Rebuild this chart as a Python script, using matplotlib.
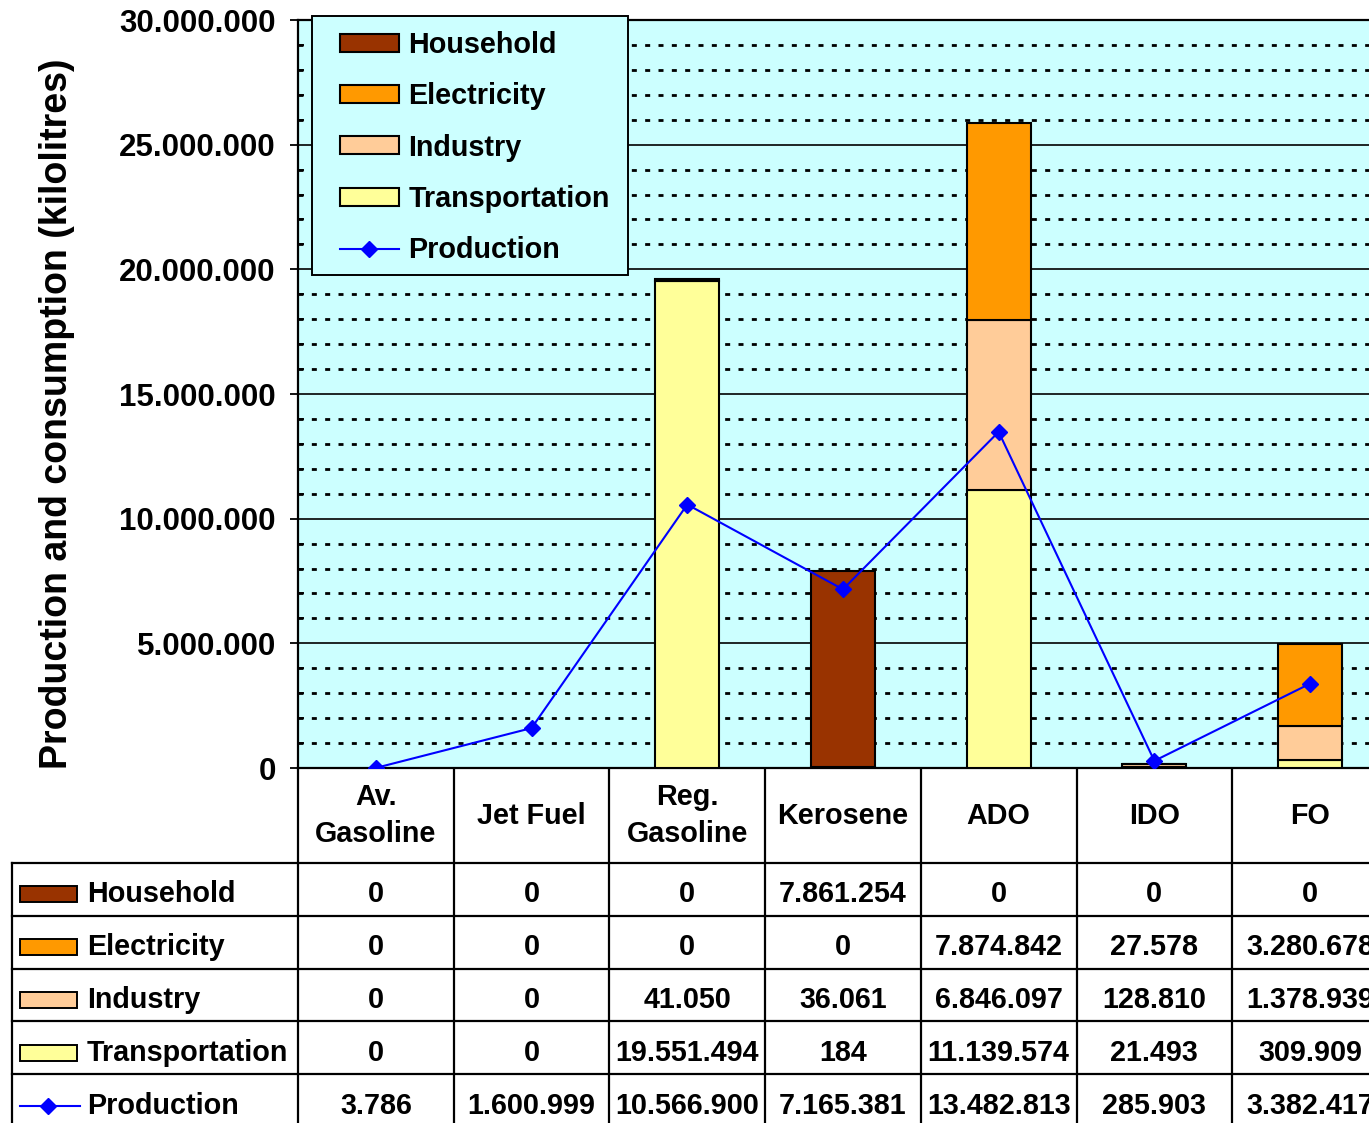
import numpy as np
import matplotlib
matplotlib.use("Agg")
import matplotlib.pyplot as plt
from matplotlib.patches import Rectangle
from matplotlib.lines import Line2D
from matplotlib.ticker import MultipleLocator, FuncFormatter

plt.rcParams['font.family'] = ['Liberation Sans', 'DejaVu Sans']
plt.rcParams['font.weight'] = 'bold'

# fuel types and sector consumption / production (kilolitres)
fuels = ["Av.\nGasoline", "Jet Fuel", "Reg.\nGasoline", "Kerosene", "ADO", "IDO", "FO"]
household = [0, 0, 0, 7861254, 0, 0, 0]
electricity = [0, 0, 0, 0, 7874842, 27578, 3280678]
industry = [0, 0, 41050, 36061, 6846097, 128810, 1378939]
transportation = [0, 0, 19551494, 184, 11139574, 21493, 309909]
production = [3786, 1600999, 10566900, 7165381, 13482813, 285903, 3382417]

c_house = "#993300"
c_elec = "#FF9900"
c_ind = "#FFCC99"
c_trans = "#FFFF99"
c_prod = "#0000FF"
c_bg = "#CCFFFF"


def dotted(v):
    return f"{int(v):,}".replace(",", ".")


W, H = 1369, 1123
fig = plt.figure(figsize=(W / 100, H / 100), dpi=100)

# plot area geometry in pixels
ax_l, ax_t, ax_b = 298, 20, 768
col_w = 155.7
n = len(fuels)
ax_r = ax_l + n * col_w

ax = fig.add_axes([ax_l / W, 1 - ax_b / H, (ax_r - ax_l) / W, (ax_b - ax_t) / H])
ax.set_facecolor(c_bg)
x = np.arange(n)
bw = 0.41

bottom = np.zeros(n)
series = [(transportation, c_trans, "Transportation"),
          (industry, c_ind, "Industry"),
          (electricity, c_elec, "Electricity"),
          (household, c_house, "Household")]
handles = {}
for vals, col, name in series:
    v = np.array(vals, dtype=float)
    keep = v > 0
    bars = ax.bar(x[keep], v[keep], bw, bottom=bottom[keep], color=col,
                  edgecolor="black", linewidth=1.5, zorder=3, label=name)
    handles[name] = bars
    bottom += v

pl, = ax.plot(x, production, color=c_prod, lw=1.5, marker="D", ms=8.5,
              zorder=5, label="Production")

ax.set_xlim(-0.5, n - 0.5)
ax.set_ylim(0, 30000000)
ax.yaxis.set_major_locator(MultipleLocator(5000000))
ax.yaxis.set_minor_locator(MultipleLocator(1000000))
ax.yaxis.set_major_formatter(FuncFormatter(lambda v, p: dotted(v)))
ax.grid(which="major", axis="y", color="black", lw=1.2, zorder=1)
ax.grid(which="minor", axis="y", color="black", lw=2.0,
        linestyle=(0, (1.8, 3.0)), zorder=1)
ax.set_axisbelow(True)
ax.set_xticks([])
ax.tick_params(axis="y", which="major", direction="out", length=6, width=1.3,
               pad=10, labelsize=22.5)
ax.tick_params(axis="y", which="minor", direction="in", length=4, width=1.3)
for lab in ax.get_yticklabels():
    lab.set_fontweight("bold")
for s in ["left", "top", "bottom"]:
    ax.spines[s].set_linewidth(1.6)
ax.spines["right"].set_visible(False)

# legend box drawn separately so its padding can be set per side
fig.add_artist(Rectangle((312 / W, 1 - 275 / H), 316 / W, 259 / H,
                         transform=fig.transFigure, facecolor=c_bg,
                         edgecolor="black", lw=1.4, zorder=4))
leg = fig.legend([handles["Household"], handles["Electricity"], handles["Industry"],
                  handles["Transportation"], pl],
                 ["Household", "Electricity", "Industry", "Transportation", "Production"],
                 loc="upper left", bbox_to_anchor=(340 / W, 1 - 31 / H),
                 borderaxespad=0, borderpad=0, fontsize=20.7, frameon=False,
                 labelspacing=0.81, handlelength=2.05, handleheight=0.58,
                 handletextpad=0.33)
leg.set_zorder(5)

fig.text(57 / W, 1 - 414 / H, "Production and consumption (kilolitres)",
         rotation=90, ha="center", va="center", fontsize=27, fontweight="bold")

# data table below the plot, drawn in pixel coordinates
tab = fig.add_axes([0, 0, 1, 1], zorder=-1)
tab.set_xlim(0, W)
tab.set_ylim(H, 0)
tab.axis("off")

tab_l = 12
head_b = 863
row_h = 52.8
rows = [("Household", household, c_house),
        ("Electricity", electricity, c_elec),
        ("Industry", industry, c_ind),
        ("Transportation", transportation, c_trans),
        ("Production", production, None)]
edges = [ax_l + i * col_w for i in range(n + 1)]
bottom_y = head_b + row_h * len(rows)
lw = 1.6

for ex in edges:
    tab.plot([ex, ex], [ax_b, bottom_y], color="black", lw=lw)
tab.plot([tab_l, tab_l], [head_b, bottom_y], color="black", lw=lw)
for i in range(len(rows) + 1):
    y = head_b + i * row_h
    tab.plot([tab_l, ax_r], [y, y], color="black", lw=lw)

for i, name in enumerate(fuels):
    cx = ax_l + (i + 0.5) * col_w
    tab.text(cx, (ax_b + head_b) / 2, name, ha="center", va="center",
             fontsize=20.7, fontweight="bold", linespacing=1.4)

for r, (name, vals, col) in enumerate(rows):
    cy = head_b + (r + 0.5) * row_h + 5
    if col is not None:
        tab.add_patch(Rectangle((20, cy - 8), 57, 16, facecolor=col,
                                edgecolor="black", lw=1.4))
    else:
        tab.add_line(Line2D([20, 80], [cy, cy], color=c_prod, lw=1.5))
        tab.add_line(Line2D([48], [cy], color=c_prod, marker="D", ms=8.5))
    tab.text(87, cy, name, ha="left", va="center", fontsize=20.7,
             fontweight="bold")
    for i, v in enumerate(vals):
        cx = ax_l + (i + 0.5) * col_w
        tab.text(cx, cy, dotted(v), ha="center", va="center",
                 fontsize=20.7, fontweight="bold")

fig.savefig("out.png", dpi=100)
